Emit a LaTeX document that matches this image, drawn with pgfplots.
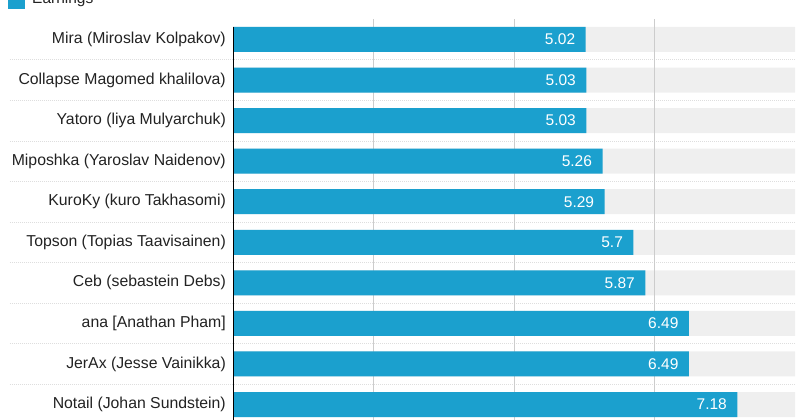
\documentclass[border=0pt]{standalone}
\usepackage{pgfplots}
\pgfplotsset{compat=1.18}
\usepackage{fontspec}
\setmainfont{Liberation Sans}
\definecolor{barblue}{RGB}{27,160,206}
\definecolor{bandgray}{RGB}{239,239,239}
\definecolor{gridgray}{RGB}{204,204,204}
\definecolor{sepgray}{RGB}{222,222,222}
\definecolor{labelgray}{RGB}{34,34,34}
\begin{document}
\begin{tikzpicture}
\begin{axis}[
  at={(233pt,-4.8pt)}, anchor=south west,
  scale only axis, width=562pt, height=405.6pt,
  xbar, bar width=25pt, bar shift=0pt,
  xmin=0, xmax=8, ymin=-0.5, ymax=9.5, y dir=reverse,
  clip=false,
  axis line style={draw=none},
  major tick length=0pt,
  xtick={0,2,4,6,8}, xticklabels={},
  ytick={0,...,9},
  yticklabels={Mira (Miroslav Kolpakov),Collapse Magomed khalilova),Yatoro (liya Mulyarchuk),Miposhka (Yaroslav Naidenov),KuroKy (kuro Takhasomi),Topson (Topias Taavisainen),Ceb (sebastein Debs),ana {[Anathan Pham]},JerAx (Jesse Vainikka),Notail (Johan Sundstein)},
  yticklabel style={font=\fontsize{15.8}{18}\selectfont, text=labelgray, inner sep=0pt, xshift=-7pt},
  /pgf/number format/assume math mode=true,
]
% grey row bands
\addplot[draw=none, fill=bandgray] coordinates {(8,0) (8,1) (8,2) (8,3) (8,4) (8,5) (8,6) (8,7) (8,8) (8,9)};
% row separators
\pgfplotsinvokeforeach{0.5,1.5,2.5,3.5,4.5,5.5,6.5,7.5,8.5}{
  \draw[sepgray, dash pattern=on 1pt off 1pt, line width=0.7pt] ([xshift=-223pt]axis cs:0,#1) -- (axis cs:8,#1);
}
% vertical grid
\pgfplotsinvokeforeach{2,4,6}{
  \draw[gridgray, line width=0.8pt] (axis cs:#1,-0.5) -- (axis cs:#1,9.5);
}
% earnings bars
\addplot[draw=none, fill=barblue,
  nodes near coords,
  every node near coord/.append style={anchor=east, xshift=-7pt, text=white, font=\fontsize{15.5}{18}\selectfont}]
  coordinates {(5.02,0) (5.03,1) (5.03,2) (5.26,3) (5.29,4) (5.70,5) (5.87,6) (6.49,7) (6.49,8) (7.18,9)};
\draw[black, line width=1pt] (axis cs:0,-0.31) -- (axis cs:0,9.6);
\end{axis}
% legend (cut off at the top, as in the reference)
\fill[barblue] (8pt,411pt) rectangle (25pt,428pt);
\node[anchor=base west, inner sep=0pt, text=labelgray, font=\fontsize{15.5}{18}\selectfont] at (32pt,416pt) {Earnings};
\pgfresetboundingbox
\useasboundingbox (0,0) rectangle (800pt,420pt);
\end{tikzpicture}
\end{document}
